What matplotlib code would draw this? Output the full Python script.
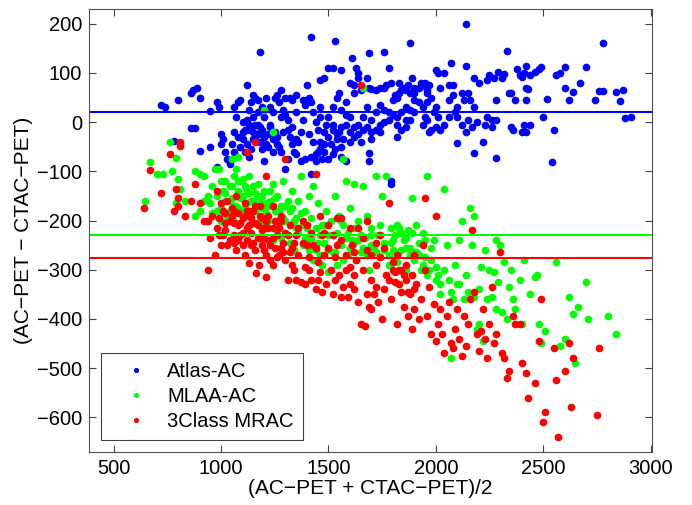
import numpy as np
import matplotlib
matplotlib.use("Agg")
import matplotlib.pyplot as plt

plt.rcParams['font.family'] = ['Liberation Sans', 'DejaVu Sans']

# Atlas-AC (blue)
atlas = np.array([
    (720, 35), (740, 30), (800, 45), (860, 60), (870, 65), (890, 70), (900, 50), (860, -12), (880, -12),
    (950, 22), (950, -50), (900, -58), (980, 40), (990, 30), (980, -92), (1000, -45), (780, -38),
    (1180, 142), (1420, 173), (1530, 165), (1690, 140), (1760, 142), (1880, 160), (2140, 200), (2330, 145),
    (2780, 160), (2070, 120), (2140, 115), (1610, 130), (1420, -105), (1790, -120), (1790, -125),
    (1690, -80), (1690, -62), (2540, -82), (2180, -62), (2280, -72), (2100, -43), (2220, -40),
    (2880, 8), (2910, 10), (2860, 42), (2870, 66), (2840, 62), (2780, 64), (2740, 45), (2700, 113),
    (2760, 64), (2670, 80), (2640, 62), (2620, 45), (2600, 70), (2580, 100), (2560, 95), (2600, 112),
    (2550, -15), (2500, 10), (2520, 48), (2480, 107), (2460, 102), (2440, 95), (2490, 112), (2420, 115),
    (2410, 100), (2400, 92), (2430, 68), (2420, 70), (2380, 107), (2390, 95), (2370, 45), (2350, 60),
    (2340, 60), (2320, 97), (2310, 90), (2290, 102), (2280, 45), (2270, 90), (2250, 95), (2240, 85),
    (2240, 10), (2260, 5), (2280, 5), (2230, -5), (2260, -10), (2350, -10), (2360, -15), (2400, -20),
    (2420, -20), (2410, -5), (2440, -5), (2420, 45), (2200, 80), (2180, 90), (2160, 45), (2150, 60),
    (2130, 45), (2120, 60), (2100, 30), (2080, 75), (2060, 75), (2040, 100), (2020, 70), (2010, 100),
    (2000, 105), (2000, 30), (1990, 20), (2010, 10), (1980, -15), (1970, -20), (1960, 5), (2060, 45),
    (2080, 55), (2090, 20), (2120, -5), (2140, -20), (2170, -10), (2040, -5), (2000, -10), (2150, 5),
    (2180, 30), (2190, 0),
    (1500, 110), (1480, 90), (1460, 85), (1520, 110), (1550, 60), (1540, 50), (1560, 105), (1600, 80),
    (1620, 75), (1640, 90), (1650, 65), (1660, 70), (1640, 100), (1630, 110), (1680, 90), (1690, 70),
    (1700, 68), (1720, 65), (1740, 70), (1760, 70), (1770, 75), (1780, 110), (1790, 80), (1810, 55),
    (1820, 50), (1830, 60), (1840, 65), (1850, 70), (1860, 65), (1870, 75), (1880, 60), (1890, 90),
    (1900, 60), (1920, 70), (1930, 80), (1940, 75), (1950, 80), (1960, 65), (1970, 75), (1900, 20),
    (1880, 25), (1860, 30), (1840, 20), (1820, 10), (1800, 15), (1780, 5), (1760, 0), (1740, -5),
    (1720, -15), (1700, -20), (1680, -10), (1660, -15), (1640, -25), (1620, -30), (1600, -20),
    (1580, -5), (1560, -10), (1540, -35), (1520, -15), (1500, -30), (1480, -45), (1460, -55),
    (1440, -65), (1420, -70), (1440, -80), (1460, -40), (1480, -20), (1500, 10), (1520, -5),
    (1540, -25), (1560, 25), (1580, 15), (1600, 10), (1620, -10), (1640, -5), (1660, 10), (1680, 30),
    (1700, 5), (1720, 20), (1740, 35), (1760, 25), (1780, 20), (1800, 45), (1820, -30), (1840, -15),
    (1860, 5), (1880, 5), (1900, 45), (1920, 40), (1940, 30), (1950, 10), (1960, 40), (1980, 50),
    (1820, -5), (1600, -40), (1560, -50), (1520, -65), (1500, -75), (1480, -60), (1560, -70), (1580, -80),
    (1000, -25), (1010, -35), (1020, -60), (1030, -75), (1040, -85), (1050, -45), (1060, -20),
    (1070, 10), (1080, 40), (1090, 45), (1060, 30), (1080, -30), (1090, -50), (1100, -35), (1110, -15),
    (1120, 5), (1130, 25), (1140, 40), (1150, 55), (1160, 50), (1170, 45), (1120, 75), (1110, -60),
    (1130, -70), (1140, -10), (1150, -20), (1160, -5), (1170, -25), (1180, -40), (1190, -55),
    (1200, -80), (1210, -45), (1220, -25), (1230, -10), (1240, 20), (1250, 50), (1260, 55), (1270, 40),
    (1280, 65), (1290, 25), (1300, 15), (1310, -15), (1320, -30), (1330, -45), (1340, -60), (1350, -65),
    (1360, -40), (1370, -20), (1380, 5), (1390, 35), (1400, 45), (1410, 50), (1420, 40), (1430, 20),
    (1440, 0), (1450, -15), (1460, 10), (1370, -80), (1390, -75), (1300, -95), (1310, -75), (1280, -60),
    (1260, -30), (1250, -20), (1200, 10), (1190, 30), (1210, 50), (1230, -5), (1150, -35), (1120, -15),
    (1100, 0), (1330, 45), (1350, 20), (1270, -50), (1240, -35), (1400, 75), (1350, 55), (1320, 50),
    (1280, 10), (1170, -5), (1190, -15), (1060, -60),
    (1100, -20), (1120, -45), (1140, -55), (1160, -30), (1180, -10), (1200, -30), (1220, -50),
    (1240, -60), (1260, -45), (1130, -5), (1150, 10), (1170, 20), (1230, 30), (1290, -20), (1310, 5),
    (1330, -10), (1350, -35), (1410, -25), (1430, -40), (1450, -60), (1470, -75), (1490, -5),
    (1510, -45), (1530, -55), (1550, -20), (1570, -35), (1650, -40), (1700, -35), (1740, -20),
    (1860, -10), (1940, -5), (2020, -15), (2100, 10), (2060, 10), (1960, 60), (1900, 70), (1830, 80),
    (1620, 60), (1580, 40), (1520, 30), (1460, 30), (1380, 45), (1300, 50),
])

# MLAA-AC (green)
mlaa = np.array([
    (645, -160), (670, -82), (700, -105), (730, -105), (760, -40), (770, -100), (790, -72), (800, -115),
    (810, -135), (790, -165), (830, -160), (880, -100), (900, -105), (900, -180), (920, -110),
    (940, -150), (950, -165), (960, -130), (970, -95), (990, -95), (980, -150), (1000, -120),
    (1000, -175), (1010, -140), (1020, -160), (1030, -190), (1040, -130), (1050, -155), (1060, -110),
    (1070, -95), (1070, -170), (1080, -140), (1090, -120), (1100, -180), (1100, -150), (1110, -130),
    (1120, -165), (1130, -110), (1140, -190), (1150, -130), (1160, -180), (1170, -150), (1180, -200),
    (1190, -175), (1200, -140), (1210, -165), (1220, -200), (1230, -160), (1240, -125), (1250, -180),
    (1260, -150), (1270, -210), (1280, -170), (1290, -120), (1300, -200), (1310, -230), (1320, -180),
    (1330, -140), (1340, -260), (1350, -195), (1360, -160), (1370, -110), (1380, -210), (1390, -180),
    (1400, -240), (1410, -150), (1420, -195), (1430, -130), (1440, -215), (1450, -165), (1460, -270),
    (1470, -210), (1480, -245), (1490, -180), (1500, -230), (1510, -200), (1520, -265), (1530, -150),
    (1540, -225), (1550, -190), (1560, -250), (1570, -210), (1580, -120), (1590, -270), (1600, -175),
    (1610, -240), (1620, -125), (1630, -280), (1640, -200), (1650, -265), (1660, -130), (1670, -235),
    (1680, -190), (1690, -300), (1700, -215), (1710, -255), (1720, -110), (1730, -230), (1740, -275),
    (1750, -150), (1760, -245), (1770, -110), (1780, -290), (1790, -215), (1800, -260), (1810, -230),
    (1820, -285), (1830, -215), (1840, -260), (1850, -240), (1860, -300), (1870, -220), (1880, -255),
    (1890, -155), (1900, -280), (1910, -210), (1920, -245), (1930, -300), (1940, -225), (1950, -275),
    (1960, -110), (1970, -300), (1980, -255), (1990, -240), (2000, -295), (2010, -310), (2020, -350),
    (2040, -135), (2050, -250), (2060, -320), (2070, -480), (2080, -360), (2090, -290), (2100, -330),
    (2110, -240), (2120, -200), (2130, -360), (2140, -310), (2160, -175), (2170, -250), (2180, -190),
    (2190, -420), (2200, -340), (2210, -295), (2220, -445), (2230, -260), (2240, -360), (2250, -300),
    (2270, -305), (2280, -240), (2290, -325), (2300, -250), (2320, -285), (2340, -335), (2350, -300),
    (2370, -380), (2390, -320), (2400, -410), (2410, -280), (2440, -350), (2460, -315), (2470, -310),
    (2480, -410), (2490, -450), (2510, -425), (2560, -285), (2580, -455), (2600, -440), (2620, -355),
    (2640, -390), (2650, -490), (2660, -375), (2700, -325), (2710, -400), (2800, -395), (2840, -430),
    (2310, -385), (2330, -400), (2200, -410), (2360, -360), (2000, -320), (1960, -310), (1940, -290),
    (1920, -270), (1880, -270), (1860, -255), (1840, -225), (1820, -210), (1790, -245), (1760, -260),
    (1740, -210), (1700, -250), (1680, -270), (1660, -255), (1640, -240), (1620, -215), (1600, -255),
    (1580, -235), (1560, -200), (1540, -290), (1520, -230), (1500, -260), (1480, -210), (1460, -230),
    (1440, -260), (1420, -235), (1400, -215), (1380, -250), (1360, -225), (1340, -200), (1320, -245),
    (1300, -170), (1280, -235), (1260, -220), (1240, -240), (1220, -170), (1200, -210), (1180, -165),
    (1160, -145), (1140, -160), (1120, -140), (1100, -115), (1080, -175), (1060, -200), (1040, -180),
    (1020, -120), (1000, -200), (980, -180), (960, -185), (920, -160), (880, -190), (1200, 25),
    (1240, -20), (1660, 70), (1080, -70), (1050, -75), (1570, -75),
    (1020, -145), (1040, -160), (1050, -130), (1060, -170), (1080, -120), (1090, -155), (1110, -175),
    (1130, -145), (1150, -160), (1170, -125), (1190, -150), (1210, -185), (1230, -140), (1250, -155),
    (1270, -180), (1290, -195), (1310, -160), (1330, -175), (1350, -215), (1370, -185), (1390, -235),
    (1410, -260), (1430, -280), (1450, -245), (1470, -290), (1500, -305), (1530, -265), (1550, -245),
    (1570, -280), (1590, -225), (1620, -245), (1650, -230), (1700, -230), (1720, -265), (1780, -270),
    (1800, -240), (1830, -265), (1860, -235), (1890, -225), (1910, -265), (1950, -240), (1980, -280),
    (2020, -330), (2040, -300), (2070, -345), (2110, -330), (2150, -345), (2180, -355), (2260, -355),
    (2280, -380),
])

# 3Class MRAC (red)
mrac = np.array([
    (640, -175), (670, -97), (720, -145), (760, -65), (780, -180), (790, -135), (800, -170), (800, -155),
    (810, -40), (810, -48), (830, -190), (860, -160), (880, -125), (900, -165), (920, -200), (940, -300),
    (950, -235), (970, -270), (980, -140), (990, -195), (1000, -250), (1010, -180), (1020, -220),
    (1030, -160), (1040, -240), (1050, -175), (1060, -205), (1070, -150), (1080, -185), (1090, -230),
    (1100, -195), (1110, -165), (1120, -215), (1130, -180), (1140, -250), (1150, -205), (1160, -170),
    (1170, -235), (1180, -190), (1190, -220), (1200, -260), (1210, -200), (1220, -240), (1230, -280),
    (1240, -215), (1250, -255), (1260, -230), (1270, -270), (1280, -200), (1290, -245), (1300, -280),
    (1310, -320), (1320, -210), (1330, -255), (1340, -300), (1350, -230), (1360, -270), (1370, -325),
    (1380, -245), (1390, -295), (1400, -210), (1410, -275), (1420, -320), (1430, -250), (1440, -340),
    (1450, -285), (1460, -305), (1470, -230), (1480, -270), (1490, -330), (1500, -255), (1510, -300),
    (1520, -350), (1530, -275), (1540, -195), (1550, -310), (1560, -240), (1570, -335), (1580, -270),
    (1590, -355), (1600, -295), (1610, -250), (1620, -340), (1630, -280), (1640, -365), (1650, -410),
    (1660, -300), (1670, -415), (1680, -260), (1690, -375), (1700, -320), (1710, -350), (1720, -290),
    (1730, -365), (1740, -275), (1750, -400), (1760, -340), (1770, -310), (1780, -165), (1790, -360),
    (1800, -300), (1810, -325), (1820, -410), (1830, -300), (1840, -345), (1850, -375), (1860, -320),
    (1870, -395), (1880, -350), (1890, -420), (1900, -380), (1910, -330), (1920, -400), (1930, -360),
    (1940, -250), (1950, -155), (1960, -395), (1970, -335), (1980, -430), (1990, -370), (2000, -445),
    (2010, -410), (2020, -380), (2030, -430), (2040, -470), (2050, -395), (2060, -365), (2070, -450),
    (2080, -460), (2090, -420), (2100, -380), (2110, -440), (2120, -475), (2130, -395), (2140, -455),
    (2150, -410), (2160, -360), (2170, -220), (2180, -345), (2190, -430), (2200, -465), (2210, -425),
    (2220, -380), (2230, -440), (2240, -480), (2250, -410), (2260, -335), (2270, -450), (2280, -430),
    (2300, -265), (2310, -470), (2320, -480), (2330, -520), (2340, -505), (2360, -395), (2370, -410),
    (2390, -410), (2400, -490), (2420, -510), (2430, -560), (2460, -530), (2480, -445), (2490, -360),
    (2500, -610), (2510, -590), (2550, -460), (2560, -525), (2570, -640), (2600, -505), (2620, -450),
    (2630, -580), (2640, -480), (2750, -595), (2760, -460), (2000, -190), (1950, -300), (1900, -270),
    (1860, -290), (1840, -300), (1820, -270), (1800, -285), (1780, -320), (1760, -255), (1740, -230),
    (1720, -245), (1700, -270), (1680, -200), (1660, -235), (1640, -215), (1620, -265), (1600, -215),
    (1580, -300), (1560, -195), (1540, -250), (1520, -230), (1500, -210), (1480, -225), (1460, -190),
    (1440, -255), (1420, -225), (1400, -250), (1380, -200), (1360, -215), (1340, -245), (1320, -265),
    (1300, -225), (1280, -190), (1260, -200), (1240, -170), (1220, -190), (1200, -215), (1180, -235),
    (1160, -205), (1140, -195), (1120, -180), (1100, -225), (1080, -210), (1060, -245), (1040, -200),
    (1020, -185), (1000, -165), (980, -215), (960, -190), (940, -200), (1440, -105), (1300, -75),
    (1160, -40), (1120, -60), (1650, 75), (1210, -110),
    (1130, -287), (1176, -291), (1208, -314), (1161, -307), (1050, -190), (1060, -230), (1070, -260),
    (1090, -205), (1100, -250), (1110, -190), (1120, -240), (1130, -210), (1140, -225), (1150, -180),
    (1160, -260), (1170, -210), (1180, -170), (1190, -250), (1200, -235), (1210, -270), (1220, -215),
    (1230, -250), (1240, -235), (1250, -200), (1260, -275), (1270, -215), (1280, -255), (1060, -180),
    (1020, -205), (1030, -250), (1010, -230), (990, -230), (1080, -240), (1110, -270), (1150, -245),
    (1190, -195), (1240, -290), (1290, -265), (1310, -230), (1330, -290), (1350, -320), (1390, -330),
    (1410, -300), (1450, -320), (1470, -345), (1530, -320), (1560, -355), (1600, -330), (1620, -310),
    (1680, -350), (1700, -380), (1720, -335), (1810, -305), (1830, -330), (1850, -310), (1870, -345),
    (1890, -310), (1900, -340),
])

# mean differences
means = [21, -229, -276]
names = ['Atlas-AC', 'MLAA-AC', '3Class MRAC']
colors = ['#0000ff', '#00ff00', '#ff0000']

fig = plt.figure(figsize=(6.92, 5.05), dpi=100)
ax = fig.add_axes([0.1286, 0.1055, 0.813, 0.8767])

for pts, name, c in zip([atlas, mlaa, mrac], names, colors):
    ax.plot(pts[:, 0], pts[:, 1], '.', color=c, markersize=9, label=name)

for m, c in zip(means, colors):
    ax.axhline(m, color=c, linewidth=1.5)

ax.set_xlim(385, 3005)
ax.set_ylim(-670, 230)
ax.set_xticks([500, 1000, 1500, 2000, 2500, 3000])
ax.set_yticks([-600, -500, -400, -300, -200, -100, 0, 100, 200])
ax.tick_params(direction='in', top=True, right=True, labelsize=14.5, length=5, color='#404040', pad=5)
for s in ax.spines.values():
    s.set_color('#505050')
ax.set_xlabel('(AC\u2212PET + CTAC\u2212PET)/2', fontsize=15, labelpad=1)
ax.set_ylabel('(AC\u2212PET \u2212 CTAC\u2212PET)', fontsize=15, labelpad=3)
ax.set_yticklabels([f'\u2212{-v}' if v < 0 else str(v) for v in ax.get_yticks()])

leg = ax.legend(loc='lower left', bbox_to_anchor=(0.0213, 0.0264), borderaxespad=0, fontsize=14.5,
                markerscale=0.6, fancybox=False, framealpha=1, edgecolor='#404040', handlelength=2.6,
                handletextpad=0.25, labelspacing=0.3, borderpad=0.45)
leg.get_frame().set_linewidth(0.8)

fig.savefig('out.png', dpi=100)
